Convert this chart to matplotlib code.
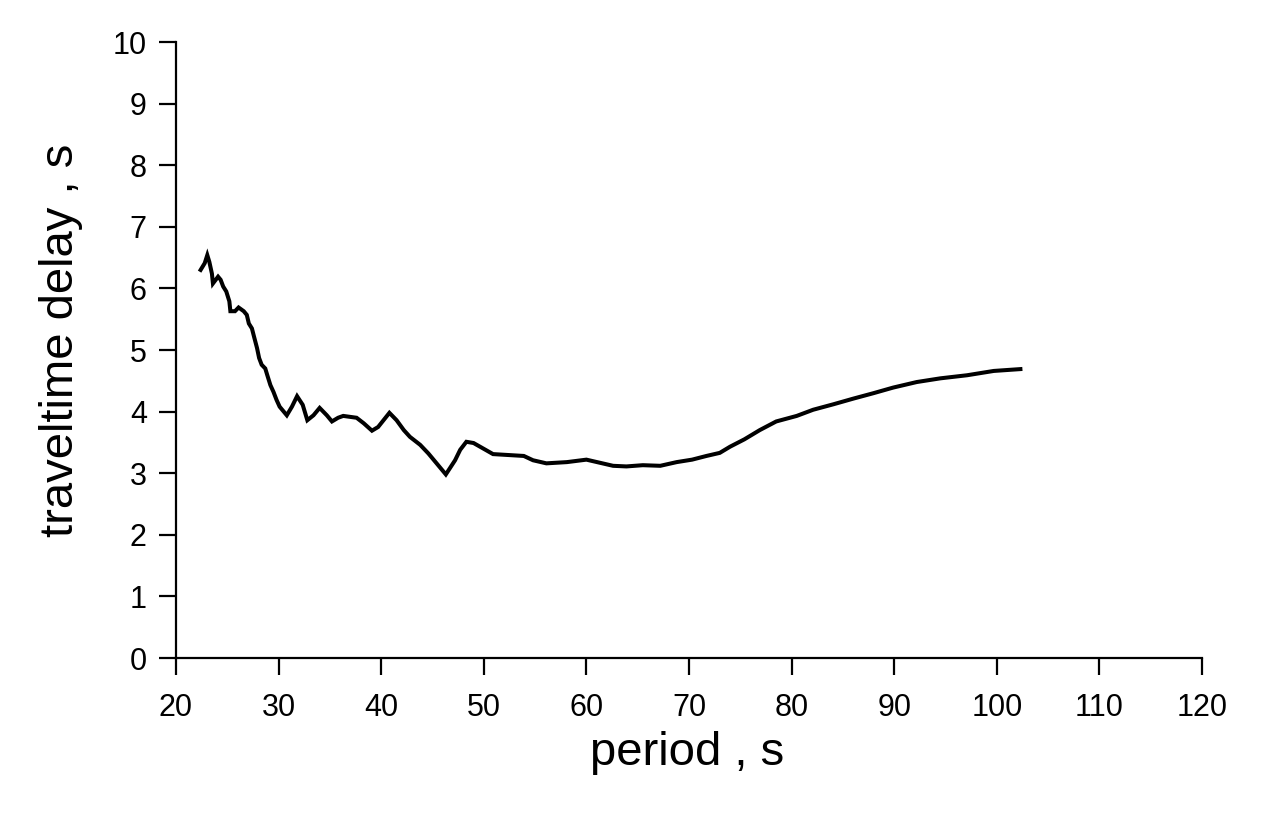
import matplotlib
matplotlib.use("Agg")
import matplotlib.pyplot as plt

period = [22.4, 22.8, 23.05, 23.25, 23.5, 23.6, 24.1, 24.35, 24.6, 24.9, 25.2, 25.3,
          25.75, 26.1, 26.6, 26.9, 27.1, 27.4, 27.6, 27.9, 28.1, 28.35, 28.7, 28.9,
          29.2, 29.5, 29.8, 30.1, 30.8, 31.3, 31.8, 32.35, 32.8, 33.4, 34.0, 34.7,
          35.2, 35.8, 36.3, 37.6, 38.3, 39.1, 39.7, 40.8, 41.5, 42.2, 42.8, 43.8,
          44.6, 45.4, 46.3, 47.2, 47.7, 48.3, 49.0, 49.95, 50.9, 53.9, 54.8, 56.1,
          58.1, 60.0, 61.3, 62.6, 63.9, 65.5, 67.2, 68.8, 70.3, 71.7, 73.0, 74.0,
          75.4, 76.9, 78.5, 80.5, 82.1, 84.1, 86.0, 88.0, 89.9, 92.2, 94.5, 97.1,
          99.7, 102.3]
delay = [6.30, 6.41, 6.54, 6.43, 6.24, 6.08, 6.19, 6.14, 6.03, 5.95, 5.79, 5.63,
         5.63, 5.69, 5.63, 5.57, 5.43, 5.35, 5.22, 5.03, 4.87, 4.76, 4.70, 4.59,
         4.43, 4.32, 4.19, 4.08, 3.94, 4.08, 4.25, 4.11, 3.86, 3.94, 4.06, 3.94,
         3.84, 3.90, 3.93, 3.90, 3.81, 3.69, 3.75, 3.98, 3.86, 3.70, 3.59, 3.46,
         3.32, 3.16, 2.98, 3.21, 3.38, 3.51, 3.49, 3.40, 3.31, 3.28, 3.21, 3.16,
         3.18, 3.22, 3.17, 3.12, 3.11, 3.13, 3.12, 3.18, 3.22, 3.28, 3.33, 3.43,
         3.55, 3.70, 3.84, 3.93, 4.03, 4.12, 4.21, 4.30, 4.39, 4.48, 4.54, 4.59,
         4.66, 4.69]

xticks = [20, 30, 40, 50, 60, 70, 80, 90, 100, 110, 120]
yticks = [0, 1, 2, 3, 4, 5, 6, 7, 8, 9, 10]

plt.rcParams['font.family'] = ['Liberation Sans', 'DejaVu Sans']

fig = plt.figure(figsize=(12.8, 8.3), dpi=100)
ax = fig.add_axes([176/1280, 1 - 658/830, (1202 - 176)/1280, (658 - 42)/830])

ax.plot(period, delay, color='black', linewidth=2.9, solid_joinstyle='miter')

ax.set_xlim(20, 120)
ax.set_ylim(0, 10)
ax.set_xticks(xticks)
ax.set_yticks(yticks)
ax.spines['top'].set_visible(False)
ax.spines['right'].set_visible(False)
ax.spines['left'].set_linewidth(1.6)
ax.spines['bottom'].set_linewidth(1.6)
ax.tick_params(axis='both', direction='out', length=12, width=1.6, labelsize=22, colors='black')
ax.tick_params(axis='x', pad=13)
ax.tick_params(axis='y', pad=9)

ax.set_xlabel('period , s', fontsize=34, va='baseline')
ax.xaxis.set_label_coords(0.4985, (658 - 765) / 616)
ax.set_ylabel('traveltime delay , s', fontsize=34, va='bottom')
ax.yaxis.set_label_coords((83 - 176) / 1026, (658 - 340) / 616)

fig.savefig('out.png', dpi=100, facecolor='white')
